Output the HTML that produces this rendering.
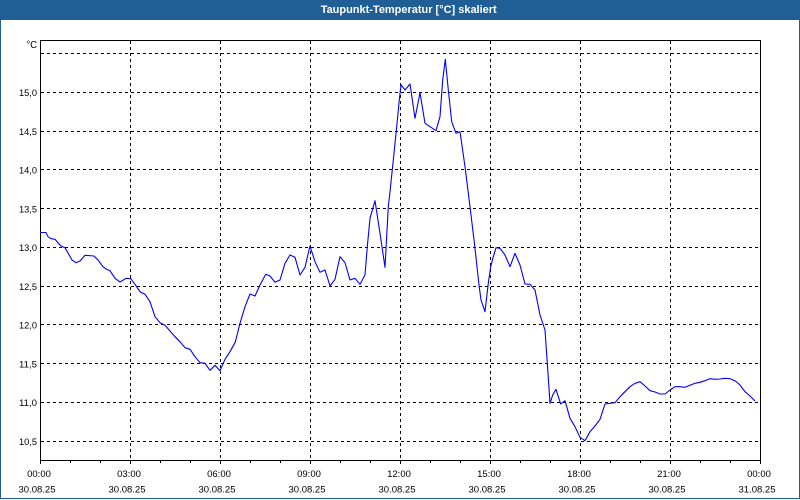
<!DOCTYPE html>
<html>
<head>
<meta charset="utf-8">
<style>
html,body{margin:0;padding:0;background:#fff;}
svg{display:block;}
text{font-family:"Liberation Sans",sans-serif;}
</style>
</head>
<body>
<svg width="800" height="500" viewBox="0 0 800 500" xmlns="http://www.w3.org/2000/svg">
  <rect x="0" y="0" width="800" height="500" fill="#ffffff"/>
  <!-- title bar -->
  <rect x="0" y="0" width="800" height="20" fill="#1f5f96"/>
  <text x="320.7" y="13" font-size="11" font-weight="bold" fill="#ffffff" textLength="176" lengthAdjust="spacingAndGlyphs">Taupunkt-Temperatur [°C] skaliert</text>
  <!-- window borders -->
  <line x1="0.5" y1="20" x2="0.5" y2="499" stroke="#1f5f96" stroke-width="1"/>
  <line x1="799.5" y1="20" x2="799.5" y2="499" stroke="#1f5f96" stroke-width="1"/>
  <line x1="0" y1="498.5" x2="800" y2="498.5" stroke="#1f5f96" stroke-width="1"/>

  <!-- horizontal dashed grid -->
  <g stroke="#000" stroke-width="1" stroke-dasharray="3,3" shape-rendering="crispEdges">
    <line x1="41" y1="53.5" x2="760" y2="53.5"/>
    <line x1="41" y1="92.5" x2="760" y2="92.5"/>
    <line x1="41" y1="131.5" x2="760" y2="131.5"/>
    <line x1="41" y1="169.5" x2="760" y2="169.5"/>
    <line x1="41" y1="208.5" x2="760" y2="208.5"/>
    <line x1="41" y1="247.5" x2="760" y2="247.5"/>
    <line x1="41" y1="286.5" x2="760" y2="286.5"/>
    <line x1="41" y1="324.5" x2="760" y2="324.5"/>
    <line x1="41" y1="363.5" x2="760" y2="363.5"/>
    <line x1="41" y1="402.5" x2="760" y2="402.5"/>
    <line x1="41" y1="441.5" x2="760" y2="441.5"/>
  </g>
  <!-- vertical dashed grid -->
  <g stroke="#000" stroke-width="1" stroke-dasharray="3,3" shape-rendering="crispEdges">
    <line x1="130.5" y1="41" x2="130.5" y2="460"/>
    <line x1="220.5" y1="41" x2="220.5" y2="460"/>
    <line x1="310.5" y1="41" x2="310.5" y2="460"/>
    <line x1="400.5" y1="41" x2="400.5" y2="460"/>
    <line x1="490.5" y1="41" x2="490.5" y2="460"/>
    <line x1="580.5" y1="41" x2="580.5" y2="460"/>
    <line x1="670.5" y1="41" x2="670.5" y2="460"/>
  </g>

  <!-- frame -->
  <rect x="40.5" y="40.5" width="720" height="420" fill="none" stroke="#000" stroke-width="1" shape-rendering="crispEdges"/>

  <!-- x ticks -->
  <g stroke="#000" stroke-width="1" shape-rendering="crispEdges">
    <line x1="40.5" y1="460" x2="40.5" y2="464"/>
    <line x1="70.5" y1="460" x2="70.5" y2="463"/>
    <line x1="100.5" y1="460" x2="100.5" y2="463"/>
    <line x1="130.5" y1="460" x2="130.5" y2="464"/>
    <line x1="160.5" y1="460" x2="160.5" y2="463"/>
    <line x1="190.5" y1="460" x2="190.5" y2="463"/>
    <line x1="220.5" y1="460" x2="220.5" y2="464"/>
    <line x1="250.5" y1="460" x2="250.5" y2="463"/>
    <line x1="280.5" y1="460" x2="280.5" y2="463"/>
    <line x1="310.5" y1="460" x2="310.5" y2="464"/>
    <line x1="340.5" y1="460" x2="340.5" y2="463"/>
    <line x1="370.5" y1="460" x2="370.5" y2="463"/>
    <line x1="400.5" y1="460" x2="400.5" y2="464"/>
    <line x1="430.5" y1="460" x2="430.5" y2="463"/>
    <line x1="460.5" y1="460" x2="460.5" y2="463"/>
    <line x1="490.5" y1="460" x2="490.5" y2="464"/>
    <line x1="520.5" y1="460" x2="520.5" y2="463"/>
    <line x1="550.5" y1="460" x2="550.5" y2="463"/>
    <line x1="580.5" y1="460" x2="580.5" y2="464"/>
    <line x1="610.5" y1="460" x2="610.5" y2="463"/>
    <line x1="640.5" y1="460" x2="640.5" y2="463"/>
    <line x1="670.5" y1="460" x2="670.5" y2="464"/>
    <line x1="700.5" y1="460" x2="700.5" y2="463"/>
    <line x1="730.5" y1="460" x2="730.5" y2="463"/>
    <line x1="760.5" y1="460" x2="760.5" y2="464"/>
  </g>

  <!-- y labels -->
  <g font-size="9.5" fill="#000" text-anchor="end">
    <text x="37" y="48" font-size="10.5" textLength="10.5" lengthAdjust="spacingAndGlyphs">°C</text>
    <text x="37" y="96" textLength="18" lengthAdjust="spacingAndGlyphs">15,0</text>
    <text x="37" y="135" textLength="18" lengthAdjust="spacingAndGlyphs">14,5</text>
    <text x="37" y="173.5" textLength="18" lengthAdjust="spacingAndGlyphs">14,0</text>
    <text x="37" y="212.5" textLength="18" lengthAdjust="spacingAndGlyphs">13,5</text>
    <text x="37" y="251" textLength="18" lengthAdjust="spacingAndGlyphs">13,0</text>
    <text x="37" y="290" textLength="18" lengthAdjust="spacingAndGlyphs">12,5</text>
    <text x="37" y="328.5" textLength="18" lengthAdjust="spacingAndGlyphs">12,0</text>
    <text x="37" y="367.5" textLength="18" lengthAdjust="spacingAndGlyphs">11,5</text>
    <text x="37" y="406" textLength="18" lengthAdjust="spacingAndGlyphs">11,0</text>
    <text x="37" y="445" textLength="18" lengthAdjust="spacingAndGlyphs">10,5</text>
  </g>

  <!-- x labels -->
  <g font-size="9.5" fill="#000" text-anchor="middle">
    <text x="39" y="477">00:00</text>
    <text x="129" y="477">03:00</text>
    <text x="219" y="477">06:00</text>
    <text x="309" y="477">09:00</text>
    <text x="399" y="477">12:00</text>
    <text x="489" y="477">15:00</text>
    <text x="579" y="477">18:00</text>
    <text x="669" y="477">21:00</text>
    <text x="759" y="477">00:00</text>
    <text x="37" y="492.5">30.08.25</text>
    <text x="127" y="492.5">30.08.25</text>
    <text x="217" y="492.5">30.08.25</text>
    <text x="307" y="492.5">30.08.25</text>
    <text x="397" y="492.5">30.08.25</text>
    <text x="487" y="492.5">30.08.25</text>
    <text x="577" y="492.5">30.08.25</text>
    <text x="667" y="492.5">30.08.25</text>
    <text x="757" y="492.5">31.08.25</text>
  </g>

  <!-- data series -->
  <polyline fill="none" stroke="#0000ff" stroke-width="1.1" stroke-linejoin="round" points="
40,232.5 46,232.5 48,236.7 51,238.7 55,239.3 58,242.7 61,246 65,247.7 68,253 72,260 76,262.7 80,261 85,255.3 94,256 98,260 103,266.7 106,269 110,270.7 115,278.3 120,282 126,278.3 130.7,278.7 135,284.3 140,291.7 145,294.3 150,301.7 155,316.7 160,322.7 165,325.3 170,331 175,336.7 180,341.7 185,347.7 190,349.3 195,356.7 200,362.7 205,363.3 210,370.3 215,365.3 220,370.7 225,359.3 230,351.7 235,342.7 236,339.3 240,323.3 245,306.7 250,294 255,296 260,285 265.7,274.3 270,276 275,282.3 280,280 285,263.3 290,255 295,257.3 300,275 305,267.3 310,246 315,261.7 320,272.3 325,270 330,286 335,279.3 340,256.7 345,262.7 350,280 355,278.3 360,284.3 365,275 367.3,246.7 370,218.3 375,200.7 380,233.3 385,267.3 388.3,206.7 390,191.7 393.3,160 396.7,126.7 399.3,100 401,84.7 405,90 410,84 415,118.3 420,92.7 425,123.3 430,126.7 436,130.7 440,116.7 442.7,80 445.3,59.3 448.3,90 451.7,121.7 456,133.3 460,131.7 465,166.7 470,206.7 475,248.3 479,285 481,300 485,311.7 488.3,283.3 490.7,266.7 493.3,256.7 496,247.7 500,248.3 505,255 510,266.7 515,253.3 520,265 525,284 530,284.3 535,290 540,315 545,330 547.3,363.3 550,403.3 552.7,395 556,389.3 560.7,404 565,400.7 570,418.3 575,426.7 580,437.3 585,440.7 590,431.7 595,426 600,419.3 605,404 615,402.7 620,396.7 630,386.7 635,383.3 640,381.7 645,386 650,390.7 655,392 660,394 665,394 670,390 675,386.7 680,386.7 685,387.3 690,385.3 695,383.3 700,382.3 705,380.7 710,378.7 715,379.3 720,379 725,378.3 730,378.7 735,380.7 740,385 745,391.7 750,396 755,401"/>
</svg>
</body>
</html>
